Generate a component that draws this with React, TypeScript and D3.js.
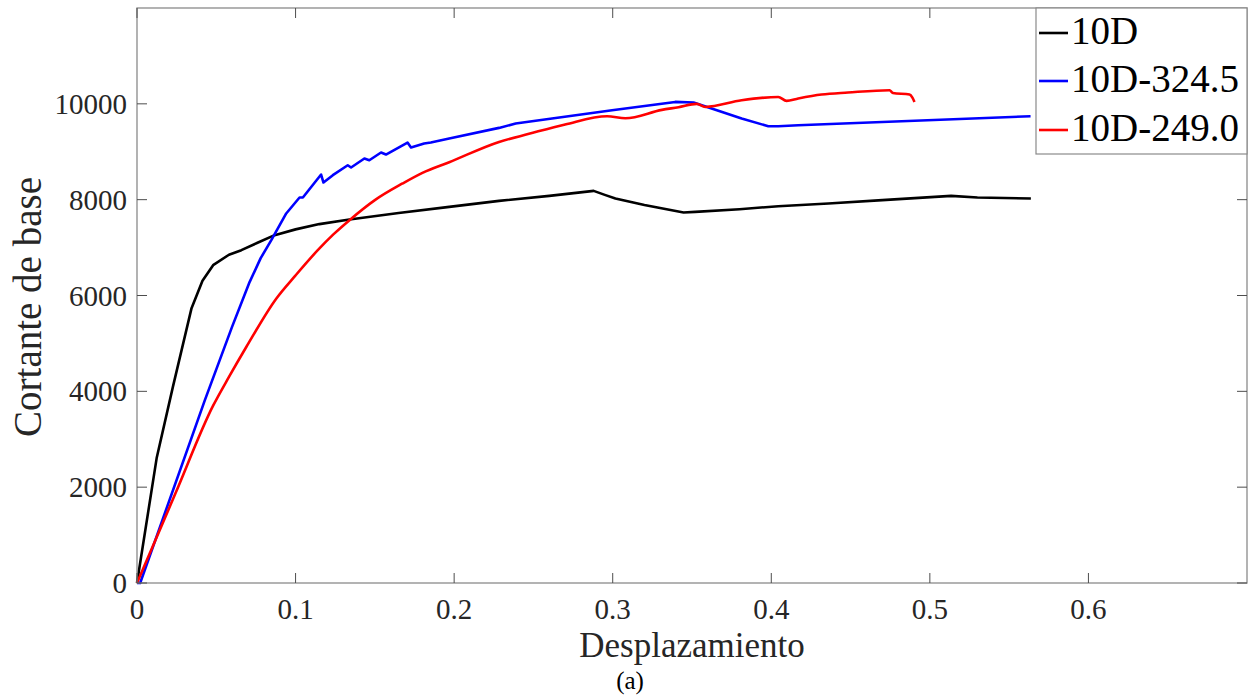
import React from "react";
import * as d3 from "d3";

const xTicks = [0, 0.1, 0.2, 0.3, 0.4, 0.5, 0.6];
const yTicks = [0, 2000, 4000, 6000, 8000, 10000];

const seriesNames = ["10D", "10D-324.5", "10D-249.0"];
const seriesColors = ["#000000", "#0000ff", "#ff0000"];

const d10X = [0, 0.0124, 0.0226, 0.0344, 0.0413, 0.048, 0.058, 0.0658, 0.076, 0.0868, 0.1, 0.115, 0.134, 0.165, 0.1969, 0.2283, 0.26, 0.288, 0.295, 0.3017, 0.32, 0.3447, 0.352, 0.38, 0.4044, 0.436, 0.47, 0.5134, 0.53, 0.5637];
const d10Y = [0, 2607, 4088, 5736, 6306, 6633, 6850, 6946, 7100, 7259, 7380, 7490, 7587, 7720, 7850, 7975, 8080, 8183, 8100, 8025, 7890, 7733, 7745, 7800, 7864, 7920, 7990, 8079, 8045, 8025];

const d324X = [0, 0.002, 0.0428, 0.06, 0.071, 0.078, 0.0847, 0.0941, 0.1025, 0.1046, 0.1161, 0.1176, 0.1235, 0.1329, 0.135, 0.1434, 0.1465, 0.1539, 0.157, 0.1706, 0.1728, 0.1811, 0.1853, 0.1969, 0.2283, 0.2388, 0.2996, 0.3394, 0.351, 0.3813, 0.3981, 0.4044, 0.417, 0.5635];
const d324Y = [0, 0, 3817, 5350, 6280, 6780, 7155, 7712, 8045, 8045, 8525, 8358, 8511, 8719, 8671, 8859, 8823, 8984, 8942, 9192, 9088, 9171, 9192, 9276, 9498, 9589, 9866, 10040, 10027, 9693, 9533, 9533, 9554, 9741];

const d249X = [0, 0.024, 0.048, 0.058, 0.069, 0.0879, 0.1, 0.114, 0.124, 0.134, 0.15, 0.1675, 0.18, 0.1969, 0.2283, 0.2472, 0.27, 0.2965, 0.308, 0.331, 0.3415, 0.353, 0.3583, 0.3813, 0.4044, 0.4096, 0.417, 0.4317, 0.4484, 0.4746, 0.4767, 0.4872, 0.489, 0.4903];
const d249Y = [0, 1850, 3700, 4300, 4930, 5939, 6420, 6946, 7280, 7572, 7990, 8338, 8560, 8782, 9205, 9374, 9570, 9741, 9700, 9874, 9930, 10000, 9935, 10075, 10144, 10061, 10111, 10194, 10236, 10284, 10228, 10194, 10130, 10040];

const W = 1251;
const H = 700;
const left = 137;
const right = 1247;
const top = 8;
const bottom = 583;
const FONT = "'Liberation Serif', 'Times New Roman', serif";

export default function App() {
  const x = d3.scaleLinear().domain([0, 0.7]).range([left, right]);
  const y = d3.scaleLinear().domain([0, 12000]).range([bottom, top]);
  const line = d3
    .line<[number, number]>()
    .x((d) => x(d[0]))
    .y((d) => y(d[1]));
  const smoothLine = d3
    .line<[number, number]>()
    .x((d) => x(d[0]))
    .y((d) => y(d[1]))
    .curve(d3.curveMonotoneX);

  const series = [
    d10X.map((v, i) => [v, d10Y[i]] as [number, number]),
    d324X.map((v, i) => [v, d324Y[i]] as [number, number]),
    d249X.map((v, i) => [v, d249Y[i]] as [number, number]),
  ];

  const tickLen = 10;
  const tickColor = "#4d4d4d";

  const legX = 1036;
  const legY = top;
  const legW = right - legX;
  const legH = 146;
  const rowY = [33, 81, 130];

  return (
    <svg
      width={W}
      height={H}
      style={{ position: "absolute", left: 0, top: 0, background: "#fff" }}
    >
      <rect x={0} y={0} width={W} height={H} fill="#ffffff" />
      <g>
        {series.map((s, i) => (
          <path
            key={i}
            d={(i === 2 ? smoothLine(s) : line(s)) || ""}
            fill="none"
            stroke={seriesColors[i]}
            strokeWidth={2.6}
            strokeLinejoin="round"
          />
        ))}
      </g>
      <rect
        x={left}
        y={top}
        width={right - left}
        height={bottom - top}
        fill="none"
        stroke="#8a8a8a"
        strokeWidth={1.3}
      />
      {xTicks.map((t) => (
        <g key={"x" + t}>
          <line x1={x(t)} x2={x(t)} y1={bottom} y2={bottom - tickLen} stroke={tickColor} strokeWidth={1} />
          <line x1={x(t)} x2={x(t)} y1={top} y2={top + tickLen} stroke={tickColor} strokeWidth={1} />
          <text
            x={x(t)}
            y={619}
            textAnchor="middle"
            fontFamily={FONT}
            fontSize={29}
            fill="#262626"
          >
            {d3.format("")(t)}
          </text>
        </g>
      ))}
      {yTicks.map((t) => (
        <g key={"y" + t}>
          <line x1={left} x2={left + tickLen} y1={y(t)} y2={y(t)} stroke={tickColor} strokeWidth={1} />
          <line x1={right} x2={right - tickLen} y1={y(t)} y2={y(t)} stroke={tickColor} strokeWidth={1} />
          <text
            x={127}
            y={y(t) + 10}
            textAnchor="end"
            fontFamily={FONT}
            fontSize={29}
            fill="#262626"
          >
            {t}
          </text>
        </g>
      ))}
      <text
        x={692}
        y={657}
        textAnchor="middle"
        fontFamily={FONT}
        fontSize={35}
        fill="#262626"
      >
        Desplazamiento
      </text>
      <text
        transform={`translate(41, ${307}) rotate(-90)`}
        textAnchor="middle"
        fontFamily={FONT}
        fontSize={39}
        fill="#262626"
      >
        Cortante de base
      </text>
      <text
        x={630}
        y={689}
        textAnchor="middle"
        fontFamily={FONT}
        fontSize={25}
        fill="#000"
      >
        (a)
      </text>
      <rect x={legX} y={legY} width={legW} height={legH} fill="#ffffff" stroke="#8a8a8a" strokeWidth={1.2} />
      {seriesNames.map((n, i) => (
        <g key={n}>
          <line
            x1={legX + 3}
            x2={legX + 32}
            y1={rowY[i]}
            y2={rowY[i]}
            stroke={seriesColors[i]}
            strokeWidth={2.6}
          />
          <text
            x={legX + 35}
            y={rowY[i] + 11}
            fontFamily={FONT}
            fontSize={39}
            fill="#000"
          >
            {n}
          </text>
        </g>
      ))}
    </svg>
  );
}
